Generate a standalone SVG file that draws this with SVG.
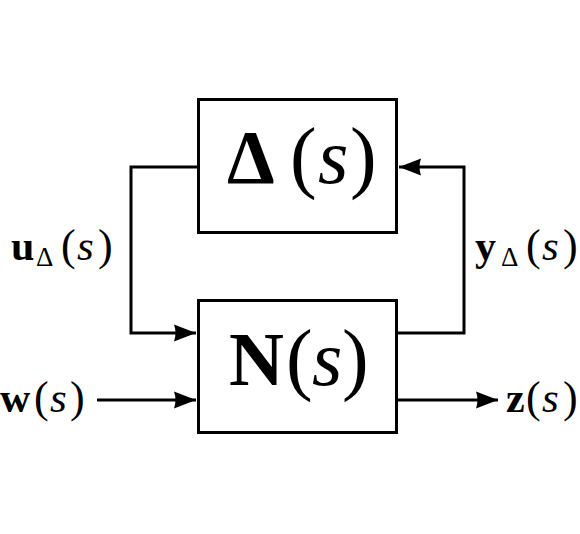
<svg xmlns="http://www.w3.org/2000/svg" width="580" height="534" viewBox="0 0 580 534">
<style>
.box{fill:#fff;stroke:#000;stroke-width:3}
.wire{fill:none;stroke:#000;stroke-width:3;stroke-linejoin:miter;stroke-linecap:butt}
.t{font-family:"Liberation Serif","Times New Roman",serif;fill:#000}
.big{font-size:76px}
.bp{font-size:80px}
.bs{font-size:78px}
.lab{font-size:42px}
.lp{font-size:44px}
.ls{font-size:43px}
.sub{font-size:27px}
.b{font-weight:bold}
.i{font-style:italic}
</style>
<defs>
<marker id="ah" markerUnits="userSpaceOnUse" markerWidth="24" markerHeight="20" refX="22" refY="9" orient="auto" overflow="visible">
<path d="M0,0.5 L22,9 L0,17.5 Q3,9 0,0.5 Z" fill="#000"/>
</marker>
</defs>
<rect width="580" height="534" fill="#fff"/>
<g id="connectors">
<path class="wire" d="M198,167 H131 V333 H196" marker-end="url(#ah)"/>
<path class="wire" d="M97,400 H196" marker-end="url(#ah)"/>
<path class="wire" d="M397,333 H464 V167 H399" marker-end="url(#ah)"/>
<path class="wire" d="M397,400 H498" marker-end="url(#ah)"/>
</g>
<g id="delta">
<rect class="box" x="198.5" y="99.5" width="198" height="133"/>
<text class="t big" y="183"><tspan class="b" x="227">Δ</tspan><tspan class="bp" x="290">(</tspan><tspan class="i bs" x="318">s</tspan><tspan class="bp" x="350">)</tspan></text>
</g>
<g id="N">
<rect class="box" x="198.5" y="300.5" width="198" height="132"/>
<text class="t big" y="385"><tspan class="b" x="229">N</tspan><tspan class="bp" x="286">(</tspan><tspan class="i bs" x="312">s</tspan><tspan class="bp" x="342">)</tspan></text>
</g>
<g id="labels">
<text class="t lab" y="260"><tspan class="b" x="11">u</tspan><tspan class="sub" x="36" dy="6">Δ</tspan><tspan class="lp" x="61" dy="-6">(</tspan><tspan class="i ls" x="77">s</tspan><tspan class="lp" x="98">)</tspan></text>
<text class="t lab" y="260"><tspan class="b" x="475">y</tspan><tspan class="sub" x="501" dy="6">Δ</tspan><tspan class="lp" x="526" dy="-6">(</tspan><tspan class="i ls" x="542">s</tspan><tspan class="lp" x="563">)</tspan></text>
<text class="t lab" y="412"><tspan class="b" x="0">w</tspan><tspan class="lp" x="34">(</tspan><tspan class="i ls" x="50">s</tspan><tspan class="lp" x="70">)</tspan></text>
<text class="t lab" y="412"><tspan class="b" x="506">z</tspan><tspan class="lp" x="526">(</tspan><tspan class="i ls" x="542">s</tspan><tspan class="lp" x="563">)</tspan></text>
</g>
</svg>
